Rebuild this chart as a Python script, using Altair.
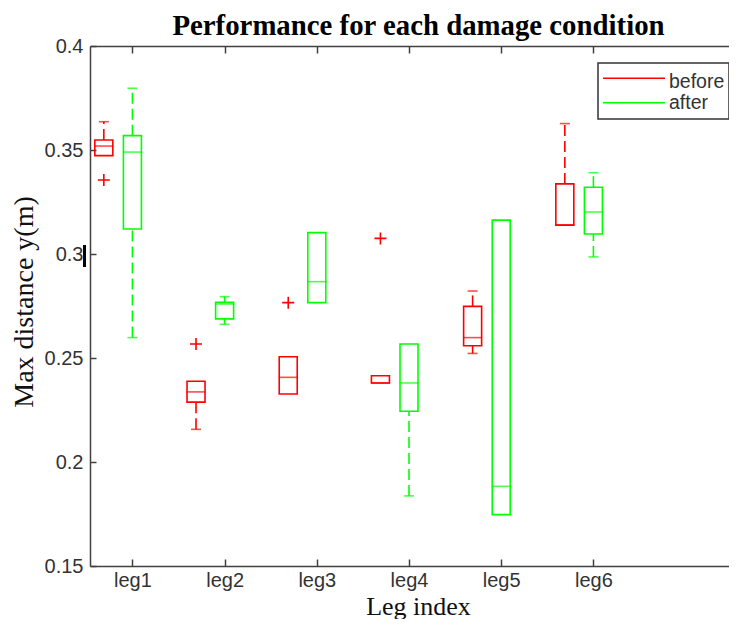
import altair as alt
import pandas as pd

# ---------------- data ----------------
legs = ["leg1", "leg2", "leg3", "leg4", "leg5", "leg6"]
groups = ["before", "after"]
colors = ["#ff0000", "#00ff00"]

before_lower = [0.3473, 0.2157, 0.2327, 0.2380, 0.2522, 0.3139]
before_q1 = [0.3473, 0.2288, 0.2327, 0.2380, 0.2559, 0.3139]
before_median = [0.3519, 0.2337, 0.2407, 0.2380, 0.2598, 0.3139]
before_q3 = [0.3548, 0.2388, 0.2506, 0.2415, 0.2748, 0.3337]
before_upper = [0.3636, 0.2388, 0.2506, 0.2415, 0.2822, 0.3627]
before_outliers = [[0.3356], [0.2567], [0.2766], [0.3075], [], []]

after_lower = [0.2598, 0.2662, 0.2766, 0.1837, 0.1747, 0.2986]
after_q1 = [0.3120, 0.2688, 0.2766, 0.2244, 0.1747, 0.3096]
after_median = [0.3490, 0.2760, 0.2867, 0.2380, 0.1883, 0.3202]
after_q3 = [0.3569, 0.2768, 0.3103, 0.2567, 0.3163, 0.3321]
after_upper = [0.3797, 0.2795, 0.3103, 0.2567, 0.3163, 0.3391]
after_outliers = [[], [], [], [], [], []]

y_ticks = [0.15, 0.2, 0.25, 0.3, 0.35, 0.4]
title_text = "Performance for each damage condition"

# ---------------- layout constants ----------------
W, H = 639, 520
PX_PER_UNIT = 92.2
group_shift = {"before": -0.31, "after": 0.0}
AX = "#404040"
SANS = "Liberation Sans"
SERIF = "Liberation Serif"

stats = {
    "before": (before_lower, before_q1, before_median, before_q3, before_upper, before_outliers),
    "after": (after_lower, after_q1, after_median, after_q3, after_upper, after_outliers),
}

box_rows, seg_rows, cap_rows, out_rows = [], [], [], []
for g in groups:
    lo, q1, md, q3, up, outs = stats[g]
    for i, leg in enumerate(legs):
        pos = i + 1 + group_shift[g]
        box_rows.append(dict(group=g, leg=leg, pos=pos, q1=q1[i], median=md[i], q3=q3[i]))
        if q1[i] - lo[i] > 1e-9:
            seg_rows.append(dict(group=g, pos=pos, a=lo[i], b=q1[i]))
            cap_rows.append(dict(group=g, pos=pos, v=lo[i]))
        if up[i] - q3[i] > 1e-9:
            seg_rows.append(dict(group=g, pos=pos, a=q3[i], b=up[i]))
            cap_rows.append(dict(group=g, pos=pos, v=up[i]))
        for o in outs[i]:
            out_rows.append(dict(group=g, pos=pos, v=o))

box_df = pd.DataFrame(box_rows)
seg_df = pd.DataFrame(seg_rows)
cap_df = pd.DataFrame(cap_rows)
out_df = pd.DataFrame(out_rows)

xs = alt.Scale(domain=[0.54, 0.54 + W / PX_PER_UNIT], nice=False, zero=False, padding=0)
ys = alt.Scale(domain=[0.15, 0.4], nice=False, zero=False, padding=0)
cs = alt.Scale(domain=groups, range=colors)

label_expr = "[" + ",".join("'%s'" % l for l in legs) + "][datum.value - 1]"
xvals = list(range(1, len(legs) + 1))

# main axes: labels + domain
x_main = alt.Axis(values=xvals, labelExpr=label_expr, ticks=False, tickSize=0, grid=False,
                  labelFont=SANS, labelFontSize=20, labelColor="#333", labelPadding=4,
                  domainColor=AX, domainWidth=1.5, title="Leg index", titleFont=SERIF,
                  titleFontSize=26, titleFontWeight="normal", titleColor="#111",
                  titleX=328, titleY=48, titleBaseline="alphabetic", titleAlign="center")
y_main = alt.Axis(values=y_ticks, format="~g", ticks=False, tickSize=0, grid=False,
                  labelFont=SANS, labelFontSize=20, labelColor="#333", labelPadding=7,
                  domainColor=AX, domainWidth=1.5, title="Max distance y(m)", titleFont=SERIF,
                  titleFontSize=28, titleFontWeight="normal", titleColor="#111",
                  titleX=-58, titleY=255.5, titleAngle=-90, titleBaseline="alphabetic",
                  titleAlign="center")
# inward ticks
x_in_bottom = alt.Axis(orient="top", offset=-H, values=xvals, labels=False, domain=False,
                       grid=False, ticks=True, tickSize=7, tickColor=AX, tickWidth=1.5, title=None)
y_in_left = alt.Axis(orient="right", offset=-W, values=y_ticks, labels=False, domain=False,
                     grid=False, ticks=True, tickSize=6, tickColor=AX, tickWidth=1.5, title=None)
x_in_top = alt.Axis(orient="bottom", offset=-H, values=xvals, labels=False, domain=True,
                    domainColor=AX, domainWidth=1.5, grid=False, ticks=True, tickSize=7,
                    tickColor=AX, tickWidth=1.5, title=None)

boxes = alt.Chart(box_df).mark_bar(size=18, fillOpacity=0, strokeWidth=1.6).encode(
    x=alt.X("pos:Q", scale=xs, axis=x_main),
    y=alt.Y("q1:Q", scale=ys, axis=y_main),
    y2="q3:Q",
    stroke=alt.Stroke("group:N", scale=cs, legend=None),
)

medians = alt.Chart(box_df).mark_tick(orient="horizontal", size=19, thickness=1.6).encode(
    x=alt.X("pos:Q", scale=xs, axis=x_in_bottom),
    y=alt.Y("median:Q", scale=ys, axis=y_in_left),
    color=alt.Color("group:N", scale=cs, legend=None),
)

whiskers = alt.Chart(seg_df).mark_rule(strokeDash=[11, 5], strokeWidth=1.6).encode(
    x=alt.X("pos:Q", scale=xs, axis=x_in_top),
    y=alt.Y("a:Q", scale=ys, axis=None),
    y2="b:Q",
    color=alt.Color("group:N", scale=cs, legend=None),
)

caps = alt.Chart(cap_df).mark_tick(orient="horizontal", size=10, thickness=1.6).encode(
    x=alt.X("pos:Q", scale=xs, axis=None),
    y=alt.Y("v:Q", scale=ys, axis=None),
    color=alt.Color("group:N", scale=cs, legend=None),
)

outliers = alt.Chart(out_df).mark_point(
    shape="M-1,0L1,0M0,-1L0,1", size=144, filled=False, strokeWidth=1.6, opacity=1
).encode(
    x=alt.X("pos:Q", scale=xs, axis=None),
    y=alt.Y("v:Q", scale=ys, axis=None),
    color=alt.Color("group:N", scale=cs, legend=None),
)

one = pd.DataFrame({"k": [0]})
legend_box = alt.Chart(one).mark_rect(fill="white", stroke="#333", strokeWidth=1.5).encode(
    x=alt.value(508), x2=alt.value(639), y=alt.value(17), y2=alt.value(73)
)
legend_layers = [legend_box]
for i, g in enumerate(groups):
    legend_layers.append(
        alt.Chart(one).mark_rule(color=colors[i], strokeWidth=1.6).encode(
            x=alt.value(513), x2=alt.value(575), y=alt.value(32.3 + 24.4 * i)
        )
    )
    legend_layers.append(
        alt.Chart(one).mark_text(text=g, align="left", baseline="alphabetic", font=SANS,
                                 fontSize=19.5, color="#333").encode(
            x=alt.value(579), y=alt.value(42.3 + 20.7 * i)
        )
    )

title_mark = alt.Chart(one).mark_text(
    text=title_text, align="center", baseline="alphabetic", font=SERIF, fontSize=28.8,
    fontWeight="bold", color="#000"
).encode(x=alt.value(328.5), y=alt.value(-11))

artifact = alt.Chart(one).mark_rule(color="black", strokeWidth=3).encode(
    x=alt.value(-5.5), y=alt.value(199), y2=alt.value(221)
)

chart = alt.layer(
    boxes, medians, whiskers, caps, outliers, *legend_layers, title_mark, artifact
).resolve_scale(
    x="shared", y="shared"
).resolve_axis(
    x="independent", y="independent"
).properties(
    width=W,
    height=H,
    autosize="none",
    padding={"left": 82, "top": 38, "right": 0, "bottom": 53},
).configure_view(stroke="transparent")

chart.save("out.html", embed_options={"renderer": "svg", "actions": False})
